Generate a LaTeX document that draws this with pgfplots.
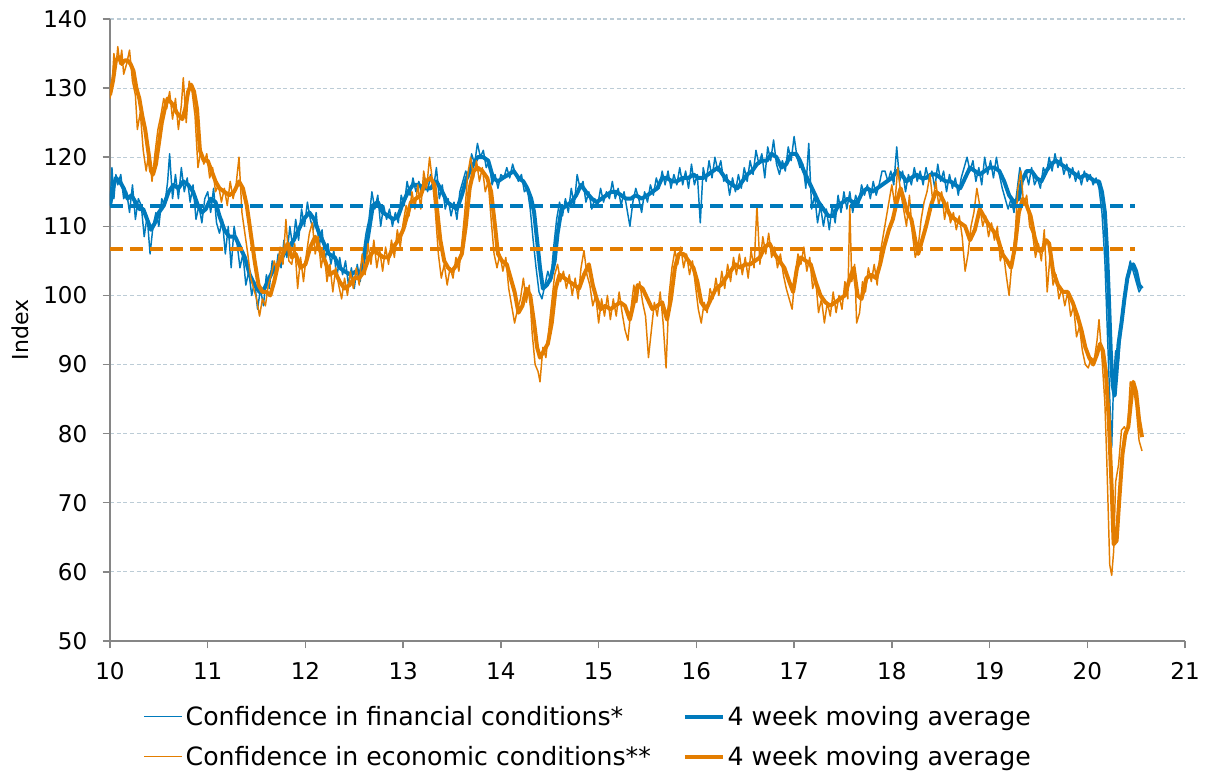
\documentclass[border=0pt]{standalone}
\usepackage{fontspec}
\setmainfont{DejaVu Sans}
\usepackage{pgfplots}
\pgfplotsset{compat=1.18}
\definecolor{cblue}{RGB}{0,122,188}
\definecolor{corange}{RGB}{227,125,0}
\definecolor{gridc}{RGB}{188,204,214}
\definecolor{axgray}{RGB}{134,134,134}
\begin{document}
\begin{tikzpicture}
\begin{axis}[
  name=ax,
  width=806.25pt, height=466.5pt, scale only axis,
  xmin=10, xmax=21, ymin=50, ymax=140,
  xtick={10,11,...,21}, ytick={50,60,...,140},
  axis lines=left,
  every outer x axis line/.append style={-},
  every outer y axis line/.append style={-},
  every inner x axis line/.append style={-},
  every inner y axis line/.append style={-},
  axis line style={draw=axgray, line width=1.1pt},
  tick align=outside, major tick length=5.5pt,
  tick style={draw=axgray, line width=1.1pt},
  ymajorgrids,
  major grid style={draw=gridc, line width=0.8pt, dash pattern=on 3pt off 2pt},
  ticklabel style={font=\fontsize{17.3}{19}\selectfont},
  /pgf/number format/assume math mode=true,
  xticklabel style={yshift=-7pt},
  yticklabel style={xshift=-8pt},
  ylabel={Index},
  ylabel style={at={(axis description cs:-0.083,0.5)}, anchor=center, font=\fontsize{16.5}{18}\selectfont},
  legend columns=2,
  legend cell align=left,
  legend style={at={(axis description cs:0.031,-0.100)}, anchor=north west, draw=none, fill=none,
    font=\fontsize{18.9}{22}\selectfont, inner sep=0pt, row sep=10pt,
    /tikz/every even column/.append style={column sep=22pt}},
  legend image code/.code={\draw[#1] (0pt,0pt) -- (28.5pt,0pt);},
  line join=round,
]
% financial raw
\addplot[cblue, line width=1.1pt] coordinates {
(10.00,113) (10.02,118.5) (10.04,114) (10.06,117.5) (10.08,116) (10.11,117.5) (10.14,114) (10.17,115) (10.20,112) (10.23,116)
(10.26,111) (10.29,114) (10.32,113) (10.35,108.5) (10.38,111.5) (10.41,106) (10.44,110) (10.47,112) (10.50,110) (10.53,114)
(10.56,113) (10.59,116.5) (10.61,120.5) (10.64,114) (10.67,117.5) (10.70,114) (10.73,118.5) (10.76,115) (10.79,117) (10.82,113.5)
(10.85,116) (10.88,111) (10.91,113) (10.94,110.5) (10.97,114) (11.00,115) (11.03,112) (11.06,115.5) (11.09,110.5) (11.12,109)
(11.15,111) (11.18,106) (11.21,110) (11.24,104) (11.27,110) (11.30,107.5) (11.33,104) (11.36,106) (11.39,101.5) (11.42,103.5)
(11.45,100) (11.48,102) (11.51,98) (11.54,101) (11.57,98.5) (11.60,103) (11.63,101) (11.66,105) (11.69,102.5) (11.72,106)
(11.75,104) (11.78,108) (11.81,105.5) (11.84,110) (11.87,107) (11.90,111) (11.93,108) (11.96,112.5) (11.99,110) (12.02,113.5)
(12.05,111) (12.08,109.5) (12.11,112) (12.14,107) (12.17,109.5) (12.20,105) (12.23,107.5) (12.26,104.5) (12.29,106.5) (12.32,102.5)
(12.35,105.5) (12.38,103) (12.41,105) (12.44,101.5) (12.47,104) (12.50,101) (12.53,104.5) (12.56,102) (12.59,106) (12.62,109)
(12.65,111) (12.68,115) (12.71,112.5) (12.74,114.5) (12.77,110) (12.80,113) (12.83,111) (12.86,112.5) (12.89,110) (12.92,112)
(12.95,110.5) (12.98,114.5) (13.01,113) (13.04,116.5) (13.07,114.5) (13.10,117) (13.13,115) (13.16,116.5) (13.19,114.5) (13.22,117)
(13.25,115) (13.28,117.5) (13.31,115.5) (13.34,118.5) (13.37,114) (13.40,116) (13.43,112.5) (13.46,114) (13.49,111.5) (13.52,113.5)
(13.55,111) (13.58,115) (13.61,116.5) (13.64,118) (13.67,117) (13.70,120.5) (13.73,119) (13.76,122) (13.79,120) (13.82,121)
(13.85,118.5) (13.88,119.5) (13.91,116) (13.94,117.5) (13.97,115.5) (14.00,117.5) (14.03,117) (14.06,118.5) (14.09,117) (14.12,119)
(14.15,117.5) (14.18,116.5) (14.21,117.5) (14.24,115) (14.27,115.5) (14.30,112.5) (14.33,108) (14.36,104) (14.39,100.5) (14.42,99.5)
(14.45,101.5) (14.48,103.5) (14.51,102) (14.54,107) (14.57,111) (14.60,113.5) (14.63,111.5) (14.66,114) (14.69,112) (14.72,115.5)
(14.75,113) (14.78,117.5) (14.81,115.5) (14.84,116.5) (14.87,113.5) (14.90,115) (14.93,112.5) (14.96,114) (14.99,113) (15.02,115.5)
(15.05,113.5) (15.08,115) (15.11,114) (15.14,116.5) (15.17,114) (15.20,115.5) (15.23,113) (15.26,115) (15.29,112.5) (15.32,110)
(15.35,113.5) (15.38,115.5) (15.41,114) (15.44,112) (15.47,115) (15.50,113.5) (15.53,116) (15.56,114.5) (15.59,117) (15.62,115.5)
(15.65,118) (15.68,116) (15.71,118) (15.74,115.5) (15.77,117.5) (15.80,116) (15.83,118.5) (15.86,116) (15.89,118) (15.92,115.5)
(15.95,119) (15.98,116) (16.01,117.5) (16.04,110.5) (16.07,118.5) (16.10,116.5) (16.13,119.5) (16.16,117) (16.19,120) (16.22,118)
(16.25,119.5) (16.28,116.5) (16.31,117.5) (16.34,114.5) (16.37,117) (16.40,115) (16.43,117.5) (16.46,115.5) (16.49,118.5) (16.52,116.5)
(16.55,119.5) (16.58,117.5) (16.61,121) (16.64,119) (16.67,120.5) (16.70,117) (16.73,121.5) (16.76,119.5) (16.79,122.5) (16.82,119)
(16.85,117.5) (16.88,119.5) (16.91,118) (16.94,121.5) (16.97,119.5) (17.00,123) (17.03,120) (17.06,118.5) (17.09,119) (17.12,115.5)
(17.15,122) (17.18,112.5) (17.21,114.5) (17.24,110.5) (17.27,113) (17.30,110) (17.33,112.5) (17.36,109.5) (17.39,113) (17.42,110.5)
(17.45,114.5) (17.48,112) (17.51,115) (17.54,112.5) (17.57,115) (17.60,112) (17.63,114.5) (17.66,113) (17.69,116) (17.72,114.5)
(17.75,116) (17.78,114) (17.81,116.5) (17.84,114.5) (17.87,116) (17.90,118) (17.93,118) (17.96,116.5) (17.99,118) (18.02,116)
(18.05,121.5) (18.08,116.5) (18.11,118) (18.14,115) (18.17,117.5) (18.20,116) (18.23,118.5) (18.26,116.5) (18.29,118) (18.32,116)
(18.35,118.5) (18.38,116.5) (18.41,118) (18.44,115.5) (18.47,119) (18.50,116.5) (18.53,118) (18.56,115) (18.59,117.5) (18.62,115.5)
(18.65,117) (18.68,114.5) (18.71,117) (18.74,118.5) (18.77,120) (18.80,118) (18.83,119.5) (18.86,116.5) (18.89,118.5) (18.92,116)
(18.95,120) (18.98,117.5) (19.01,119.5) (19.04,117) (19.07,120) (19.10,117.5) (19.13,115.5) (19.16,114) (19.19,112.5) (19.22,114)
(19.25,112) (19.28,115) (19.31,118.5) (19.34,116.5) (19.37,118) (19.40,116) (19.43,118.5) (19.46,116) (19.49,117) (19.52,115.5)
(19.55,118.5) (19.58,117.5) (19.61,120) (19.64,118) (19.67,120.5) (19.70,118.5) (19.73,120) (19.76,117.5) (19.79,119) (19.82,117)
(19.85,118.5) (19.88,116.5) (19.91,118) (19.94,116) (19.97,118) (20.00,116.5) (20.03,117.5) (20.06,116) (20.09,117) (20.12,115.5)
(20.15,112) (20.18,105) (20.21,93) (20.24,81) (20.25,78) (20.27,88) (20.29,92) (20.32,90.5) (20.35,96) (20.38,100)
(20.41,103) (20.44,105) (20.47,103.5) (20.50,102) (20.53,100.5) (20.55,101)
};
\addlegendentry{Confidence in financial conditions*}
% financial MA
\addplot[cblue, line width=3pt] coordinates {
(10.00,113) (10.03,115.5) (10.06,117) (10.10,116.5) (10.14,115.5) (10.18,114) (10.22,114.5) (10.26,113.5) (10.30,112.5) (10.34,112.5)
(10.38,111) (10.42,109.5) (10.46,110.5) (10.50,112) (10.55,113) (10.60,115) (10.65,116) (10.70,115.5) (10.75,116.5) (10.80,116)
(10.85,115) (10.90,113) (10.94,112) (10.98,112.5) (11.03,114) (11.08,113.5) (11.12,111.5) (11.17,109.5) (11.22,108.5) (11.28,108.5)
(11.33,107) (11.38,105.5) (11.43,103) (11.48,101.5) (11.53,100.5) (11.58,101) (11.63,102.5) (11.68,104) (11.73,104.5) (11.78,106)
(11.83,107) (11.88,108) (11.93,109.5) (11.98,111) (12.04,112) (12.09,111) (12.14,109) (12.19,107.5) (12.24,106) (12.30,105.5)
(12.35,104) (12.40,103.5) (12.46,103) (12.52,103.5) (12.56,103) (12.60,105.5) (12.64,108.5) (12.69,113) (12.74,113.5) (12.79,112)
(12.85,111.5) (12.90,111) (12.95,111.5) (13.00,113.5) (13.05,115) (13.10,116) (13.16,116) (13.22,115.5) (13.28,115.5) (13.34,116.5)
(13.40,115) (13.45,113.5) (13.50,113) (13.55,112.5) (13.60,114.5) (13.65,117) (13.70,118.5) (13.76,120) (13.82,120) (13.87,119.5)
(13.92,117) (13.97,116.5) (14.02,117) (14.08,117.5) (14.13,118) (14.18,117) (14.23,116.5) (14.27,115.5) (14.31,114) (14.34,112)
(14.37,108) (14.40,104) (14.43,101) (14.47,101.5) (14.51,102.5) (14.55,105) (14.58,109) (14.62,112.5) (14.67,113) (14.72,113.5)
(14.77,114.5) (14.82,116) (14.87,115) (14.93,114) (14.98,113.5) (15.03,114) (15.08,114.5) (15.13,115) (15.18,115) (15.23,114.5)
(15.28,114) (15.33,114) (15.38,114.5) (15.44,114) (15.50,114.5) (15.55,115) (15.60,115.5) (15.65,117) (15.70,117) (15.75,116.5)
(15.80,116.5) (15.86,117) (15.92,117) (15.97,117.5) (16.02,117) (16.07,117) (16.12,117.5) (16.17,118) (16.22,118.5) (16.27,117.5)
(16.32,116.5) (16.37,116) (16.42,115.5) (16.47,116.5) (16.52,117.5) (16.57,118) (16.62,119) (16.67,119.5) (16.72,119.5) (16.77,120.5)
(16.82,120) (16.87,118.5) (16.92,119) (16.97,120.5) (17.02,120.5) (17.06,119.5) (17.10,118) (17.15,116.5) (17.20,115) (17.25,113.5)
(17.30,112.5) (17.35,111.5) (17.40,111.5) (17.45,113) (17.50,113.5) (17.55,114) (17.60,113.5) (17.65,113.5) (17.70,115) (17.75,115.5)
(17.80,115) (17.85,115.5) (17.90,116) (17.95,116.5) (18.00,117) (18.05,118) (18.10,117.5) (18.15,116.5) (18.20,117) (18.25,117.5)
(18.30,117) (18.35,117) (18.40,117.5) (18.45,117.5) (18.50,117) (18.55,116.5) (18.60,116.5) (18.65,116) (18.70,115.5) (18.75,117)
(18.80,118.5) (18.85,118) (18.90,117.5) (18.95,118) (19.00,118.5) (19.05,118.5) (19.10,118) (19.15,116.5) (19.20,114.5) (19.25,113.5)
(19.30,114) (19.33,116.5) (19.38,118) (19.43,118) (19.48,117) (19.53,116.5) (19.58,118) (19.63,119) (19.68,119.5) (19.73,119)
(19.78,118.5) (19.83,118) (19.88,117.5) (19.93,117) (19.98,117.5) (20.03,117) (20.08,116.5) (20.12,116.5) (20.15,115) (20.18,112)
(20.20,107) (20.22,100) (20.24,92) (20.26,87) (20.28,85.5) (20.30,89) (20.32,93) (20.35,96) (20.38,99.5) (20.41,102.5)
(20.44,104) (20.47,104.5) (20.50,103.5) (20.53,101.5) (20.56,101)
};
\addlegendentry{4 week moving average}
% economic raw
\addplot[corange, line width=1.1pt] coordinates {
(10.00,128.5) (10.02,130) (10.04,135) (10.06,133) (10.08,136) (10.10,133.5) (10.12,135.5) (10.14,132) (10.17,133.5) (10.20,135.5)
(10.23,131) (10.26,129) (10.28,124) (10.31,126.5) (10.34,121) (10.37,118) (10.40,121) (10.43,116.5) (10.46,120.5) (10.49,124)
(10.52,126) (10.55,128.5) (10.58,127) (10.61,129.5) (10.64,125.5) (10.67,128.5) (10.70,124) (10.73,127.5) (10.75,131.5) (10.78,125)
(10.81,131) (10.84,129.5) (10.87,126) (10.90,118.5) (10.93,121) (10.96,119) (10.99,120.5) (11.02,117) (11.05,118.5) (11.08,115)
(11.11,116) (11.14,113.5) (11.17,115.5) (11.20,113) (11.23,116.5) (11.26,114) (11.29,116) (11.32,120) (11.35,112) (11.38,109)
(11.41,106) (11.44,102.5) (11.47,101) (11.50,99.5) (11.53,97) (11.56,99.5) (11.59,98.5) (11.62,101.5) (11.65,103) (11.68,105)
(11.71,103.5) (11.74,107) (11.77,104.5) (11.80,111) (11.83,105) (11.86,104.5) (11.89,107.5) (11.92,101) (11.95,105.5) (11.98,102)
(12.01,106) (12.04,109) (12.07,110.5) (12.10,106) (12.13,108.5) (12.16,104) (12.19,106.5) (12.22,102) (12.25,104.5) (12.28,100.5)
(12.31,104) (12.34,101.5) (12.37,99.5) (12.40,102.5) (12.43,100) (12.46,103.5) (12.49,101) (12.52,104) (12.55,101.5) (12.58,106)
(12.61,103) (12.64,107.5) (12.67,104.5) (12.70,108) (12.73,104) (12.76,106.5) (12.79,103.5) (12.82,107) (12.85,104.5) (12.88,108)
(12.91,105.5) (12.94,109.5) (12.97,107) (13.00,110.5) (13.03,113) (13.06,111.5) (13.09,115) (13.12,112.5) (13.15,116) (13.18,112.5)
(13.21,118) (13.24,115.5) (13.27,120) (13.30,116.5) (13.33,112) (13.36,106) (13.39,102.5) (13.42,104.5) (13.45,101.5) (13.48,104)
(13.51,102.5) (13.54,105.5) (13.57,103.5) (13.60,107.5) (13.63,112) (13.66,117.5) (13.69,120) (13.72,117) (13.75,119.5) (13.78,116.5)
(13.81,118.5) (13.84,115) (13.87,116.5) (13.90,111) (13.93,106) (13.96,104) (13.99,106) (14.02,103.5) (14.05,105.5) (14.08,101)
(14.11,98.5) (14.14,96) (14.17,98) (14.20,99.5) (14.23,102.5) (14.26,99) (14.29,101.5) (14.32,94.5) (14.35,90) (14.38,89)
(14.40,87.5) (14.43,92.5) (14.46,91) (14.49,95) (14.52,99) (14.55,103) (14.58,104.5) (14.61,102) (14.64,103.5) (14.67,101)
(14.70,103) (14.73,100) (14.76,102.5) (14.79,99.5) (14.82,104) (14.85,106.5) (14.88,103) (14.91,101.5) (14.94,98.5) (14.97,100)
(15.00,96) (15.03,99.5) (15.06,97) (15.09,100) (15.12,96.5) (15.15,99.5) (15.18,97) (15.21,100.5) (15.24,97.5) (15.27,95)
(15.30,93.5) (15.33,98) (15.36,101.5) (15.39,99) (15.42,102) (15.45,99) (15.48,97) (15.51,91) (15.54,95) (15.57,99)
(15.60,97) (15.63,100.5) (15.66,96) (15.69,89.5) (15.72,100) (15.75,104) (15.78,106.5) (15.81,104.5) (15.84,107) (15.87,104)
(15.90,106) (15.93,103) (15.96,105) (15.99,101.5) (16.02,98) (16.05,96) (16.08,99) (16.11,97.5) (16.14,101) (16.17,99.5)
(16.20,102.5) (16.23,100) (16.26,103.5) (16.29,101) (16.32,104.5) (16.35,102) (16.38,105.5) (16.41,103) (16.44,106) (16.47,103)
(16.50,105.5) (16.53,102.5) (16.56,106.5) (16.59,104) (16.62,113) (16.65,104.5) (16.68,108.5) (16.71,106) (16.74,109) (16.77,105.5)
(16.80,107) (16.83,104) (16.86,106) (16.89,103) (16.92,101) (16.95,99.5) (16.98,98) (17.01,103) (17.04,106) (17.07,104.5)
(17.10,107) (17.13,103.5) (17.16,105.5) (17.19,101) (17.22,102.5) (17.25,97.5) (17.28,99.5) (17.31,96) (17.34,99) (17.37,97)
(17.40,100.5) (17.43,97.5) (17.46,100) (17.49,98) (17.52,102) (17.55,99.5) (17.57,113) (17.59,102) (17.62,104.5) (17.64,96)
(17.67,97.5) (17.70,102) (17.73,100.5) (17.76,104) (17.79,102) (17.82,104.5) (17.85,101.5) (17.88,106) (17.91,108.5) (17.94,111)
(17.97,113.5) (18.00,116) (18.03,113) (18.06,118.5) (18.09,115) (18.12,112.5) (18.15,110) (18.18,114.5) (18.21,109) (18.24,105.5)
(18.27,107) (18.30,111) (18.33,113.5) (18.36,115) (18.39,117.5) (18.42,113.5) (18.45,116.5) (18.48,113) (18.51,115) (18.54,111)
(18.57,113.5) (18.60,110.5) (18.63,112) (18.66,109.5) (18.69,111.5) (18.72,108.5) (18.75,103.5) (18.78,106) (18.81,110) (18.84,112)
(18.87,115.5) (18.90,113) (18.93,110) (18.96,111.5) (18.99,108.5) (19.02,110.5) (19.05,108) (19.08,110) (19.11,105) (19.14,106.5)
(19.17,103) (19.20,100) (19.23,105) (19.26,108.5) (19.29,115.5) (19.32,118) (19.35,113) (19.38,114.5) (19.41,110) (19.44,109)
(19.47,105.5) (19.50,107.5) (19.53,105) (19.56,109.5) (19.59,100.5) (19.62,106) (19.65,101.5) (19.68,103) (19.71,99.5) (19.74,101)
(19.77,98.5) (19.80,100.5) (19.83,97) (19.86,98.5) (19.89,94) (19.92,95.5) (19.95,92) (19.98,90) (20.01,89.5) (20.04,91)
(20.07,90.5) (20.10,93.5) (20.12,96.5) (20.15,91) (20.18,84.5) (20.20,76) (20.23,61) (20.25,59.5) (20.27,63) (20.29,73)
(20.32,75.5) (20.35,80.5) (20.38,81) (20.41,80) (20.44,87.5) (20.47,87) (20.50,84) (20.53,79) (20.56,77.5)
};
\addlegendentry{Confidence in economic conditions**}
% economic MA
\addplot[corange, line width=3pt] coordinates {
(10.00,129) (10.03,131) (10.06,134) (10.09,134.5) (10.12,133.5) (10.15,134) (10.18,134) (10.21,133.5) (10.24,132.5) (10.27,130)
(10.30,128.5) (10.33,126) (10.36,124) (10.39,121) (10.42,118) (10.44,117.5) (10.47,119) (10.50,122) (10.53,125) (10.56,127)
(10.59,128.5) (10.62,128) (10.65,127.5) (10.68,126.5) (10.71,126) (10.74,125.5) (10.77,127) (10.80,129.5) (10.83,130.5) (10.86,129.5)
(10.89,127) (10.92,121) (10.96,119.5) (11.00,119.5) (11.04,118) (11.08,116.5) (11.12,115.5) (11.17,115) (11.22,114.5) (11.27,115)
(11.32,116.5) (11.36,115.5) (11.40,113) (11.44,109) (11.48,105) (11.52,101.5) (11.56,100.5) (11.60,100.5) (11.64,100) (11.68,102)
(11.72,104.5) (11.77,106) (11.82,107.5) (11.86,105.5) (11.90,106) (11.95,104) (12.00,104.5) (12.05,107) (12.10,108.5) (12.15,106.5)
(12.20,105) (12.25,103) (12.30,103.5) (12.35,102) (12.40,101) (12.45,101.5) (12.50,102.5) (12.55,102.5) (12.60,103.5) (12.65,105.5)
(12.70,106.5) (12.75,106) (12.80,105.5) (12.85,105.5) (12.90,107) (12.95,108) (13.00,109.5) (13.04,111.5) (13.08,113.5) (13.13,114)
(13.18,114.5) (13.23,116.5) (13.28,117) (13.32,116) (13.35,112) (13.38,108) (13.42,105) (13.46,104) (13.50,103.5) (13.55,104.5)
(13.60,106) (13.64,110) (13.68,115.5) (13.72,118) (13.76,118.5) (13.81,118) (13.86,117) (13.90,115) (13.94,110) (13.97,106)
(14.01,105) (14.06,104.5) (14.10,102.5) (14.14,100.5) (14.18,97.5) (14.22,98.5) (14.26,101) (14.30,100) (14.34,96) (14.37,92.5)
(14.40,91) (14.44,92) (14.48,93) (14.52,96) (14.56,101) (14.60,103) (14.65,102.5) (14.70,102) (14.75,101.5) (14.80,101)
(14.85,103) (14.90,104.5) (14.94,101.5) (14.98,99.5) (15.02,98) (15.07,98.5) (15.12,98) (15.17,98.5) (15.22,99) (15.27,98.5)
(15.32,96.5) (15.36,99) (15.40,101.5) (15.45,101) (15.50,99.5) (15.55,98) (15.60,98.5) (15.65,99) (15.70,96.5) (15.74,99.5)
(15.78,104) (15.82,106) (15.87,106) (15.92,105) (15.97,104) (16.01,102) (16.05,99) (16.10,98) (16.15,99.5) (16.20,101)
(16.25,101.5) (16.30,102.5) (16.35,103.5) (16.40,104.5) (16.45,104) (16.50,104.5) (16.55,104.5) (16.60,105) (16.65,105.5) (16.70,107)
(16.75,107.5) (16.80,106) (16.85,105) (16.90,104) (16.95,102) (16.99,100.5) (17.03,104) (17.07,105.5) (17.12,105) (17.17,104.5)
(17.22,102) (17.27,100) (17.32,99) (17.37,98.5) (17.42,99) (17.47,99.5) (17.52,100) (17.57,102.5) (17.61,104) (17.65,100)
(17.69,99.5) (17.74,102.5) (17.79,103) (17.84,102.5) (17.88,104.5) (17.92,107) (17.97,109.5) (18.01,111) (18.05,113.5) (18.09,115.5)
(18.12,114) (18.16,112) (18.20,111) (18.24,108) (18.27,106) (18.31,108) (18.35,110) (18.40,113) (18.45,115) (18.50,114.5)
(18.55,113) (18.60,111.5) (18.65,111) (18.70,110.5) (18.75,110) (18.80,108) (18.85,109.5) (18.90,112.5) (18.94,111.5) (18.98,110.5)
(19.03,109.5) (19.08,108.5) (19.13,106) (19.18,105) (19.22,104) (19.26,107) (19.30,112) (19.34,114) (19.38,113) (19.42,111.5)
(19.46,108.5) (19.50,106.5) (19.54,106.5) (19.58,108) (19.61,107.5) (19.65,103.5) (19.70,101.5) (19.75,100.5) (19.80,100.5) (19.85,99)
(19.90,97) (19.94,95) (19.98,92.5) (20.02,91) (20.06,90) (20.10,91.5) (20.13,93) (20.16,92) (20.19,89) (20.22,82)
(20.25,72) (20.27,64) (20.30,64.5) (20.33,71) (20.36,77) (20.39,80) (20.42,81) (20.45,85) (20.47,87.5) (20.50,86)
(20.53,82) (20.56,79.5)
};
\addlegendentry{4 week moving average}
% long-run averages
\addplot[cblue, line width=3pt, dash pattern=on 10pt off 5pt, forget plot] coordinates {(10,113) (20.49,113)};
\addplot[corange, line width=3pt, dash pattern=on 10pt off 5pt, forget plot] coordinates {(10,106.7) (20.49,106.7)};
\end{axis}
\pgfresetboundingbox
\path ([shift={(-82.5pt,-99.75pt)}]ax.south west) rectangle ([shift={(24.75pt,14.25pt)}]ax.north east);
\end{tikzpicture}
\end{document}
